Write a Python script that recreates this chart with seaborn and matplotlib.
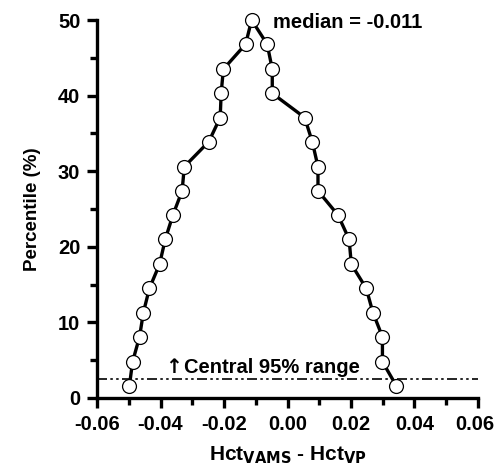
import numpy as np
import pandas as pd
import matplotlib
matplotlib.use('Agg')
import matplotlib.pyplot as plt
import matplotlib.transforms as mtransforms
import seaborn as sns
from matplotlib.ticker import MultipleLocator

# mountain plot points, drawn in order (left side up, then right side down)
diff = [-0.0498, -0.0488, -0.0466, -0.0454, -0.0435, -0.0403, -0.0385, -0.0361,
        -0.0332, -0.0325, -0.0248, -0.0212, -0.0209, -0.0202, -0.0132, -0.0113,
        -0.0064, -0.0048, -0.0048, 0.0054, 0.0078, 0.0096, 0.0096, 0.0159,
        0.0194, 0.0201, 0.0248, 0.0269, 0.0299, 0.0299, 0.0343]
pct = [1.6, 4.8, 8.1, 11.3, 14.5, 17.7, 21.0, 24.2, 27.4, 30.6, 33.9, 37.1, 40.3,
       43.5, 46.8, 50.0,
       46.8, 43.5, 40.3, 37.1, 33.9, 30.6, 27.4, 24.2, 21.0, 17.7, 14.5, 11.3,
       8.1, 4.8, 1.6]
median_val = -0.011
cut = 2.5
xticks = [-0.06, -0.04, -0.02, 0.0, 0.02, 0.04, 0.06]
xticklabels = ['-0.06', '-0.04', '-0.02', '0.00', '0.02', '0.04', '0.06']

df = pd.DataFrame({'diff': diff, 'pct': pct})

sns.set_style('ticks')
plt.rcParams['font.family'] = ['Liberation Sans', 'DejaVu Sans']
plt.rcParams['font.weight'] = 'bold'
plt.rcParams['mathtext.default'] = 'bf'
plt.rcParams['text.color'] = 'black'
plt.rcParams['axes.labelcolor'] = 'black'
plt.rcParams['xtick.color'] = 'black'
plt.rcParams['ytick.color'] = 'black'
plt.rcParams['axes.edgecolor'] = 'black'

fig = plt.figure(figsize=(4.96, 4.70), dpi=100)
ax = fig.add_axes([0.1956, 0.1532, 0.7681, 0.8042])

ax.axhline(cut, color='black', lw=1.2, ls=(0, (6, 2, 1.5, 2, 1.5, 2)), zorder=1)
sns.lineplot(x='diff', y='pct', data=df, sort=False, estimator=None, ax=ax,
             color='black', lw=2.4, marker='o', markersize=10,
             markerfacecolor='white', markeredgecolor='black',
             markeredgewidth=0.9, zorder=3, clip_on=False)

ax.text(-0.0047, 49.7, 'median = %.3f' % median_val, fontsize=14.5, fontweight='bold',
        va='center', ha='left')
ax.text(-0.0384, 4.0, '\u2191', fontsize=14.5, fontweight='bold',
        family=['DejaVu Sans'], va='center', ha='left')
ax.text(-0.0326, 4.0, 'Central 95% range', fontsize=14.5, fontweight='bold',
        va='center', ha='left')

ax.set_xlim(-0.06, 0.06)
ax.set_ylim(0, 50)
ax.set_xticks(xticks)
ax.set_xticklabels(xticklabels)
ax.xaxis.set_minor_locator(MultipleLocator(0.01))
ax.yaxis.set_major_locator(MultipleLocator(10))
ax.yaxis.set_minor_locator(MultipleLocator(5))

for s in ['top', 'right']:
    ax.spines[s].set_visible(False)
for s in ['left', 'bottom']:
    ax.spines[s].set_linewidth(2.4)
ax.tick_params(which='major', length=7, width=2.4, labelsize=14.5, pad=5)
ax.tick_params(which='minor', length=5, width=2.4)
for lab in ax.get_xticklabels() + ax.get_yticklabels():
    lab.set_fontweight('bold')
# nudge the last x label so it stays inside the figure
last = ax.get_xticklabels()[-1]
last.set_transform(last.get_transform() + mtransforms.ScaledTranslation(-3 / 100, 0, fig.dpi_scale_trans))

ax.set_xlabel('Hct$_{VAMS}$ - Hct$_{VP}$', fontsize=15, fontweight='bold', labelpad=8)
ax.set_ylabel('Percentile (%)', fontsize=13.5, fontweight='bold', labelpad=12)

fig.savefig('out.png', dpi=100)
